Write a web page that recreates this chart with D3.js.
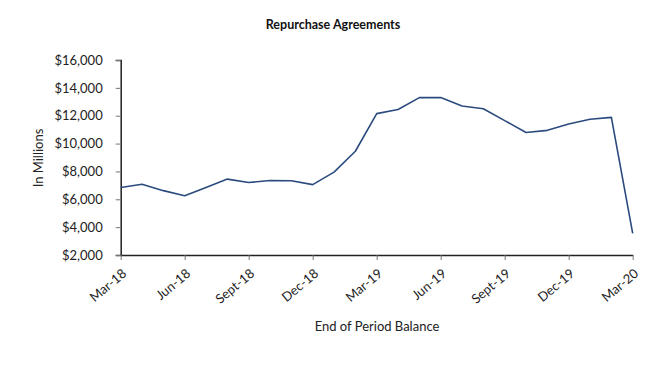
<!DOCTYPE html>
<html><head><meta charset="utf-8">
<script src="https://cdn.jsdelivr.net/npm/d3@7"></script>
<style>body{margin:0;background:#fff}svg{display:block}text{font-family:Lato,"Open Sans",sans-serif}</style>
</head><body><svg width="666" height="366"></svg>
<script>
const months = ["Mar-18","Apr-18","May-18","Jun-18","Jul-18","Aug-18","Sept-18","Oct-18","Nov-18","Dec-18",
  "Jan-19","Feb-19","Mar-19","Apr-19","May-19","Jun-19","Jul-19","Aug-19","Sept-19","Oct-19","Nov-19","Dec-19",
  "Jan-20","Feb-20","Mar-20"];
const values = [6850,7075,6620,6250,6850,7450,7200,7350,7330,7050,
  7950,9450,12150,12450,13300,13300,12700,12500,11650,10800,10950,11400,11750,11880,3550];
const tickLabels = ["Mar-18","Jun-18","Sept-18","Dec-18","Mar-19","Jun-19","Sept-19","Dec-19","Mar-20"];
const yTicks = [2000,4000,6000,8000,10000,12000,14000,16000];

const svg = d3.select("svg");
const x = d3.scalePoint().domain(months).range([120.7, 632.7]);
const y = d3.scaleLinear().domain([2000,16000]).range([255,60]);

svg.append("text").attr("x",333).attr("y",29).attr("text-anchor","middle")
  .attr("font-size",12.5).attr("font-weight","bold").attr("fill","#111").text("Repurchase Agreements");

const ya = svg.append("g").attr("transform","translate(120.7,0)")
  .call(d3.axisLeft(y).tickValues(yTicks).tickSize(5).tickPadding(13).tickFormat(d=>"$"+d3.format(",")(d)));
ya.select(".domain").attr("stroke","#222").attr("stroke-width",1.5);
ya.selectAll(".tick line").attr("stroke","#777");
ya.selectAll("text").attr("font-size",13).attr("fill","#222").attr("font-family","Lato,'Open Sans',sans-serif");

const xa = svg.append("g").attr("transform","translate(0,255)")
  .call(d3.axisBottom(x).tickValues(tickLabels).tickSize(5).tickSizeOuter(0));
xa.select(".domain").attr("stroke","#222").attr("stroke-width",1.5);
xa.selectAll(".tick line").attr("stroke","#777");
xa.selectAll("text").attr("font-size",13).attr("fill","#222").attr("font-family","Lato,'Open Sans',sans-serif")
  .attr("text-anchor","end").attr("dy",null).attr("y",0)
  .attr("transform","translate(6,20) rotate(-40)");

svg.append("text").attr("transform","translate(43,158) rotate(-90)").attr("text-anchor","middle")
  .attr("font-size",13).attr("fill","#222").text("In Millions");
svg.append("text").attr("x",377).attr("y",331).attr("text-anchor","middle")
  .attr("font-size",13).attr("fill","#222").text("End of Period Balance");

const line = d3.line().x((d,i)=>x(months[i])).y(d=>y(d));
svg.append("path").datum(values).attr("d",line).attr("fill","none")
  .attr("stroke","#2b4b7e").attr("stroke-width",1.6).attr("stroke-linejoin","round");
</script></body></html>
